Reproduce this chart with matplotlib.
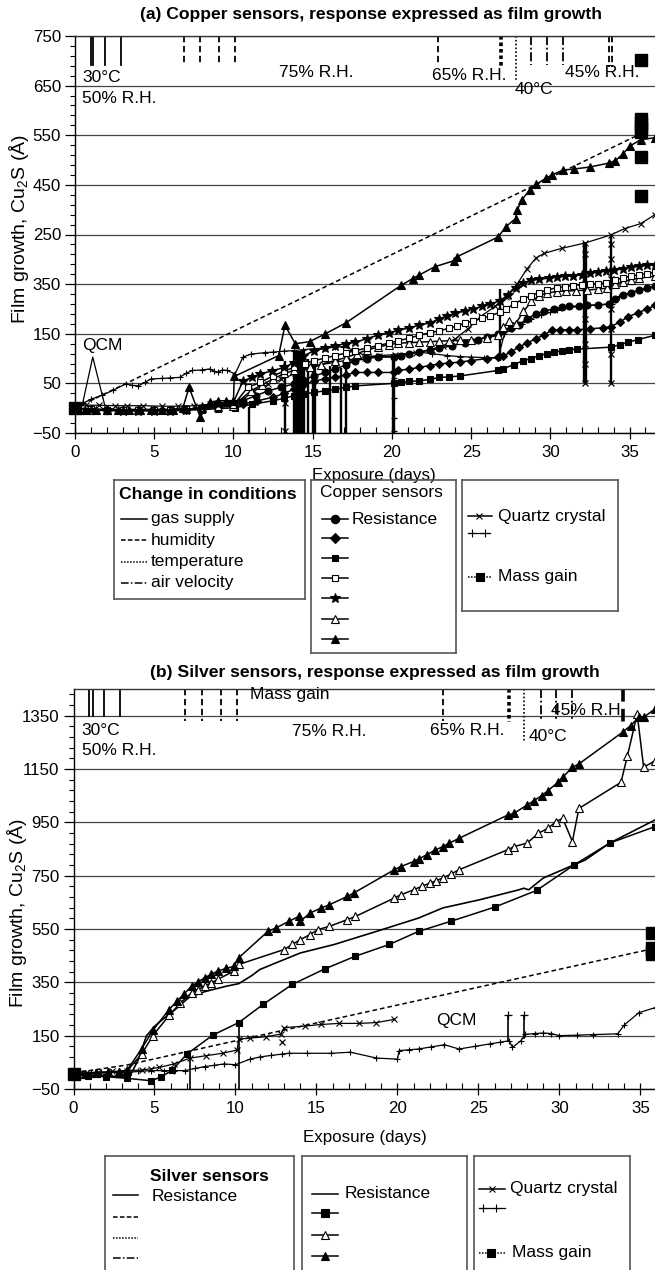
import matplotlib
matplotlib.use('Agg')
import matplotlib.pyplot as plt
from matplotlib.ticker import FixedLocator, MultipleLocator

plt.rcParams['font.family'] = ['Liberation Sans', 'DejaVu Sans']
plt.rcParams['mathtext.fontset'] = 'custom'
plt.rcParams['mathtext.rm'] = 'Liberation Sans'
plt.rcParams['mathtext.it'] = 'Liberation Sans:italic'
plt.rcParams['mathtext.bf'] = 'Liberation Sans:bold'
plt.rcParams['font.size'] = 12

# ---------------- DATA : panel (a) copper ----------------
a_ytick_pos = [-50, 50, 150, 250, 350, 450, 550, 650, 750]
a_ytick_lab = ['\u221250', '50', '150', '350', '250', '450', '550', '650', '750']

a_res_d = [0,1,2,3,4,5,6,7,8,9,10,10.6,11.4,12.2,13.0,13.8,14.4,15.1,15.8,16.4,17.1,17.7,18.4,19.1,20.1,20.6,21.1,21.7,22.4,23.0,23.8,24.6,25.4,26.0,26.7,27.0,27.5,28.0,28.5,29.1,29.6,30.2,30.7,31.2,31.8,32.3,33.0,33.7,34.1,34.6,35.1,35.6,36.1,36.6]
a_res_v = [0,-2,-3,-3,-3,-3,-3,-2,0,2,5,15,25,35,42,49,57,65,72,79,87,96,100,103,103,106,110,113,117,121,126,132,138,143,150,157,162,167,180,190,196,200,203,205,206,207,208,210,220,228,233,238,243,246]

a_dia_d = [0,1,2,3,4,5,6,7,8,9,10,10.6,11.5,12.5,13.2,13.8,14.4,15.1,15.8,16.4,17.1,17.7,18.4,19.1,20.1,20.4,21.1,21.7,22.4,23.0,23.6,24.3,25.0,26.0,26.7,27.0,27.5,28.0,28.5,29.1,29.6,30.1,30.6,31.2,31.7,32.5,33.3,33.8,34.4,34.9,35.5,36.1,36.6]
a_dia_v = [0,-3,-4,-4,-4,-4,-4,-3,-1,2,4,8,15,22,30,38,47,55,59,62,67,72,72,72,72,76,79,82,86,89,91,93,96,100,103,105,113,123,131,140,148,157,158,158,158,160,162,164,174,184,192,200,207]

a_sqf_d = [0,1,2,3,4,5,6,7,8,9,10.1,11.2,12.5,13.2,13.8,14.4,15.1,15.8,16.4,17.1,17.7,20.1,20.6,21.1,21.7,22.4,23.0,23.6,24.3,26.7,27.0,27.7,28.3,28.8,29.3,29.8,30.2,30.7,31.2,31.7,33.8,34.4,34.9,35.5,36.6]
a_sqf_v = [0,-4,-5,-5,-5,-5,-5,-4,-3,-1,1,8,15,20,25,28,32,35,38,42,45,50,52,54,55,58,62,63,65,76,79,88,96,100,106,110,113,115,118,119,123,128,133,138,147]

a_sqo_d = [0,1,2,3,4,5,6,7,8,9,10,10.9,11.7,12.5,13.2,13.8,14.5,15.1,15.8,16.4,17.1,17.7,18.4,19.1,19.8,20.4,21.1,21.7,22.4,23.0,23.6,24.1,24.6,25.1,25.7,26.2,26.8,27.2,27.7,28.3,28.8,29.3,29.8,30.4,30.9,31.4,32.0,32.5,33.0,33.5,34.1,34.6,35.1,35.6,36.1,36.6]
a_sqo_v = [0,-2,-3,-3,-3,-3,-3,-2,0,3,6,42,52,65,75,82,90,96,101,106,111,116,121,126,131,136,141,147,152,156,161,166,171,176,181,186,193,200,210,220,227,233,238,243,245,247,249,250,251,253,258,263,266,269,271,274]

a_star_d = [0,1,2,3,4,5,6,7,8,9,10,10.6,11.2,11.7,12.4,13.2,13.8,14.4,15.1,15.8,16.4,17.1,17.7,18.4,19.1,19.8,20.4,21.1,21.7,22.4,23.0,23.5,24.0,24.6,25.1,25.7,26.2,26.8,27.3,27.8,28.3,28.8,29.3,29.9,30.4,30.9,31.4,32.0,32.5,33.0,33.5,34.0,34.6,35.1,35.6,36.1,36.6]
a_star_v = [0,-3,-4,-5,-5,-5,-5,-4,2,8,12,55,62,69,75,82,92,105,116,121,126,130,133,140,147,152,157,162,167,172,180,186,191,196,200,205,210,216,228,243,253,258,260,262,264,266,267,269,272,274,277,279,281,284,286,288,289]

a_tro_d = [0,1,2,3,4,5,6,7,8,9,10,11.1,11.8,12.5,13.2,13.8,14.8,15.5,16.4,17.1,17.8,18.4,19.1,19.8,20.4,21.1,21.7,22.4,23.0,23.6,24.3,25.0,26.0,26.7,27.0,27.4,27.8,28.3,28.8,29.3,29.8,30.4,31.0,31.6,32.3,33.0,33.6,34.1,34.6,35.1,35.6,36.6]
a_tro_v = [0,-3,-3,-3,-3,-3,-3,-2,0,3,5,35,47,59,70,76,82,88,96,102,110,117,123,128,131,132,133,134,135,136,137,138,142,147,163,175,170,195,215,227,232,235,236,237,238,240,242,250,255,259,262,266]

a_trf_d = [0,0.6,1.3,2,2.7,3.4,4.1,4.8,5.5,6.2,6.8,7.2,7.9,8.5,9,9.5,10.0,10.05,12.85,13.25,13.9,14.8,15.8,17.1,20.6,21.3,21.7,22.7,23.9,24.1,26.7,27.2,27.8,27.9,28.2,28.7,29.1,29.7,30.1,30.8,31.5,32.5,33.7,34.1,34.6,35.0,35.7,36.6]
a_trf_v = [0,-3,-3,-3,-3,-3,-3,-3,-3,-3,0,42,-18,12,15,15,15,64,106,167,130,134,150,172,248,261,268,285,297,305,345,366,382,399,420,440,451,463,470,480,482,486,494,499,513,528,541,545]

a_qcx_d = [0,0.7,1.5,2.5,3.3,4.3,5.5,6.5,7.5,8.5,9.5,10.5,11.3,12.2,13.0,13.9,14.8,15.6,16.5,17.4,18.3,19.2,20.2,21.5,22.5,23.2,24.0,24.8,25.6,26.5,27.2,27.9,28.5,29.1,29.6,30.7,32.2,33.8,34.7,35.7,36.6]
a_qcx_v = [5,6,6,5,5,5,4,4,5,8,10,15,35,48,58,70,80,88,93,98,102,106,108,112,118,125,140,160,185,205,225,250,280,303,312,322,333,349,362,372,390]

a_qcp_d = [0,0.5,1,1.7,2.4,3.2,3.6,4.0,4.4,4.8,5.5,6.0,6.6,7.0,7.4,8.0,8.5,8.8,9.0,9.3,9.6,10.1,10.6,11.1,12.0,12.5,13.2,13.8,14.4,15.1,15.8,16.4,16.9,17.5,18.3,19.2,20.1,21.0,21.7,22.5,23.5,24.3,25.0,25.8,26.7,27.1,27.6,28.2,28.8,29.4,30.0,30.4,31.9,33.9,34.3,35.0,36.6]
a_qcp_v = [0,10,18,26,36,49,46,45,52,59,60,61,62,70,76,77,79,74,72,77,76,69,103,109,112,113,115,116,118,120,121,123,124,118,106,104,105,110,113,110,106,104,103,102,101,150,160,170,180,188,193,198,206,210,225,232,245]

# QCM glitches (vertical excursions)
a_spk_d = [11.0,13.25,13.85,13.97,14.09,14.21,14.33,14.45,14.7,15.05,15.15,16.1,16.8,17.1,20.05,20.12,26.85,32.15,32.25,33.85]
a_spk_top = [2,96,116,116,116,116,116,116,100,100,100,85,80,80,102,102,241,335,335,349]
a_spk_bot = [-50,-50,-50,-50,-50,-50,-50,-50,-50,-50,-50,-50,-50,-50,-50,-50,96,50,50,50]
a_spkx_d = [13.25,13.25,32.2,32.2,32.2,32.2,32.2,32.2,33.85,33.85,33.85,33.85,33.85,33.85,33.85]
a_spkx_v = [10,-45,310,250,180,130,90,50,330,300,260,200,160,110,50]
a_spkp_d = [20.1,20.1,20.1,20.1,26.85,26.85,26.85]
a_spkp_v = [60,20,-20,-45,200,150,110]

a_mass_line_d = [0, 35.7]
a_mass_line_v = [0, 553]
a_mass_d = [0, 35.7, 35.7, 35.7, 35.7, 35.7, 35.7, 35.7]
a_mass_v = [0, 702, 583, 574, 565, 556, 507, 428]

a_qcm_lbl_d = [0.45, 1.12, 1.9]
a_qcm_lbl_v = [5, 103, 3]

a_cond_d = [0.98,1.16,1.9,2.9,6.9,7.9,9.1,10.1,22.9,26.9,27.8,28.8,29.8,30.8,33.7,33.9]
a_cond_kind = ['gas']*4 + ['hum']*5 + ['tempb','temp'] + ['air']*3 + ['hum','hum']
a_cond_end = [692]*9 + [690,661] + [692]*3 + [688,688]

a_notes = [('30\u00b0C',0.45,667),('50% R.H.',0.45,624),('75% R.H.',12.85,677),
           ('65% R.H.',22.5,671),('40\u00b0C',27.75,643),('45% R.H.',30.9,677),('QCM',0.47,127)]

# ---------------- DATA : panel (b) silver ----------------
b_ytick_pos = [-50, 150, 350, 550, 750, 950, 1150, 1350]
b_ytick_lab = ['\u221250', '150', '350', '550', '750', '950', '1150', '1350']

b_res_d = [0,1,2,3,3.5,4.0,4.5,5.0,5.5,6.3,7.1,8.1,9.4,10.2,11.0,11.5,12.5,14.0,16.1,18.7,21.3,22.8,25.1,27.5,27.8,28.1,29.0,31.6,33.1,35.9]
b_res_v = [5,2,0,-5,0,60,149,185,211,249,292,315,335,345,375,398,423,460,492,541,591,629,660,697,703,697,741,809,872,959]

b_sq_d = [0,0.9,2.0,3.3,4.8,5.4,6.1,7.0,8.6,10.2,11.7,13.5,15.5,17.4,19.5,21.3,23.3,26.0,28.6,30.9,33.1,35.9]
b_sq_v = [5,0,-4,-10,-19,-5,21,81,152,199,267,342,400,448,492,541,579,632,695,790,872,934]

b_tro_d = [0,0.7,1.4,2.1,2.8,3.3,4.2,4.9,5.9,6.6,7.3,7.7,8.1,8.5,8.9,9.9,10.2,13.0,13.5,14.0,14.6,15.1,15.8,16.9,17.4,19.8,20.2,21.0,21.5,22.0,22.4,22.8,23.3,23.8,26.8,27.2,28.0,28.7,29.3,29.8,30.2,30.8,31.2,33.8,34.2,34.8,35.2,35.9]
b_tro_v = [5,8,10,12,15,18,80,150,226,273,311,323,336,348,361,392,417,473,492,510,529,548,560,585,597,666,678,697,710,722,731,741,756,772,847,859,872,909,928,953,965,878,1002,1100,1200,1356,1156,1181]

b_trf_d = [0,0.7,1.4,2.1,2.8,3.3,4.2,4.9,5.9,6.4,6.8,7.3,7.7,8.1,8.5,8.9,9.4,9.9,10.2,12.0,12.5,13.3,13.9,14.0,14.6,15.3,15.8,16.9,17.3,19.8,20.2,21.0,21.3,21.8,22.3,22.8,23.2,23.8,26.8,27.2,28.0,28.4,28.9,29.3,29.9,30.2,30.8,31.2,33.9,34.4,34.9,35.2,35.9]
b_trf_v = [5,8,10,12,15,20,100,170,248,280,305,336,352,367,380,392,402,410,442,541,554,579,597,579,610,629,641,672,685,772,784,803,812,828,845,859,872,890,977,984,1015,1030,1050,1069,1100,1119,1156,1169,1288,1313,1344,1344,1375]

b_qcx_d = [0,0.8,1.5,2.4,3.3,4.2,4.8,5.3,6.2,7.2,8.2,9.2,10.1,10.2,10.9,11.9,12.8,13.0,14.3,15.3,16.4,17.6,18.7,19.8]
b_qcx_v = [6,10,13,16,19,21,26,31,44,66,75,84,96,137,141,146,156,180,186,192,196,196,199,211]

b_qcp_d = [0,0.5,1.1,1.7,2.3,3.3,4.0,4.8,5.6,6.2,6.9,7.5,8.1,8.7,9.3,10.0,10.9,11.5,12.2,12.9,13.3,14.4,15.9,17.1,18.7,20.0,20.1,20.7,21.3,22.1,22.9,23.8,24.8,25.7,26.3,26.9,27.1,27.6,27.9,28.5,29.0,29.5,30.0,31.1,32.1,33.6,34.0,34.9,35.9]
b_qcp_v = [6,9,12,12,12,12,16,19,19,19,19,27,34,39,44,41,62,70,76,81,84,84,84,88,66,62,94,97,100,108,116,100,110,119,125,131,106,130,155,158,160,158,150,152,154,157,190,236,255]

b_spk_d = [7.2, 10.2, 26.8, 27.8]
b_spk_top = [66, 198, 226, 226]
b_spk_bot = [-62, -56, 131, 137]
b_spkx_d = [7.2, 12.9]
b_spkx_v = [-60, 125]
b_spkp_d = [26.8, 27.8]
b_spkp_v = [226, 226]

b_mass_line_d = [0, 3.3, 10.1, 35.9]
b_mass_line_v = [10, 40, 132, 478]
b_mass_d = [0, 35.7, 35.7, 35.7, 35.7]
b_mass_v = [5, 535, 480, 467, 455]

b_cond_d = [0.95,1.19,1.9,2.9,6.86,7.92,9.13,10.09,22.8,26.9,27.8,28.87,29.8,30.8,33.9]
b_cond_kind = ['gas']*4 + ['hum']*5 + ['tempb','temp'] + ['air']*3 + ['humb']
b_cond_end = [1350]*4 + [1331]*5 + [1325,1256] + [1331]*3 + [1325]

b_notes = [('Mass gain',10.9,1431),('30\u00b0C',0.5,1294),('50% R.H.',0.5,1219),('75% R.H.',13.5,1290),
           ('65% R.H.',22.0,1294),('40\u00b0C',28.1,1272),('45% R.H',29.5,1369),('QCM',22.4,205)]

# ---------------- LAYOUT ----------------
W, H = 655, 1270
fig = plt.figure(figsize=(W/100, H/100), dpi=100)

def rect(l, t, r, b):
    return [l/W, 1-b/H, (r-l)/W, (b-t)/H]

ax_a = fig.add_axes(rect(75, 36, 655, 433))
ax_b = fig.add_axes(rect(73.5, 689, 655, 1089))

K = 'black'
FS = 12.5

def series(ax, d, v, marker, ms, mfc=K, ls='-', lw=1.1):
    ax.plot(d, v, ls=ls, marker=marker, ms=ms, mfc=mfc, color=K, lw=lw, mec=K, mew=0.8)

cond_style = {'gas': ('-', 1.3), 'hum': ((0, (3.5, 2)), 1.3), 'humb': ((0, (3.5, 2)), 2.6),
              'temp': ((0, (1, 1.3)), 1.2), 'tempb': ((0, (1, 0.8)), 2.6), 'air': ((0, (5, 1.5, 1, 1.5)), 1.3)}

def style_axes(ax, xmax, ylo, yhi, ypos, ylab, yminor):
    ax.set_xlim(0, xmax)
    ax.set_ylim(ylo, yhi)
    ax.set_xticks([0, 5, 10, 15, 20, 25, 30, 35])
    ax.xaxis.set_minor_locator(MultipleLocator(1))
    ax.set_yticks(ypos)
    ax.set_yticklabels(ylab)
    ax.yaxis.set_minor_locator(FixedLocator(yminor))
    ax.tick_params(axis='y', which='major', direction='out', length=7, width=0.9, pad=3, labelsize=12.2)
    ax.tick_params(axis='y', which='minor', direction='out', length=3.5, width=0.8)
    ax.tick_params(axis='x', which='major', direction='inout', length=9, width=0.9, pad=4, labelsize=12.2)
    ax.tick_params(axis='x', which='minor', direction='in', length=4, width=0.8)
    ax.spines['right'].set_visible(False)
    for s in ('left', 'bottom', 'top'):
        ax.spines[s].set_linewidth(1.0)
    ax.spines['top'].set_color('#333333')
    ax.grid(axis='y', which='major', color='#444444', lw=0.9)
    ax.set_axisbelow(True)
    ax.set_ylabel('Film growth, Cu$_2$S (\u00c5)', fontsize=14)
    ax.set_xlabel('Exposure (days)', fontsize=12.2)

# ---------------- PANEL (a) ----------------
ax = ax_a
style_axes(ax, 36.6, -50, 750, a_ytick_pos, a_ytick_lab, list(range(-50, 751, 20)))
ax.yaxis.set_label_coords(-0.076, 0.515)
ax.xaxis.set_label_coords(0.516, -0.087)

for d, k, e in zip(a_cond_d, a_cond_kind, a_cond_end):
    ls, lw = cond_style[k]
    ax.plot([d, d], [750, e], color=K, ls=ls, lw=lw)

ax.plot(a_mass_line_d, a_mass_line_v, color=K, ls=(0, (3, 2)), lw=1.1)
ax.vlines(a_spk_d, a_spk_bot, a_spk_top, color=K, lw=1.7)
ax.plot(a_spkx_d, a_spkx_v, ls='none', marker='x', ms=5, color=K, mew=0.9)
ax.plot(a_spkp_d, a_spkp_v, ls='none', marker='+', ms=5, color=K, mew=0.9)

series(ax, a_qcx_d, a_qcx_v, 'x', 4.5, lw=0.9)
series(ax, a_qcp_d, a_qcp_v, '+', 5, lw=0.9)
series(ax, a_sqf_d, a_sqf_v, 's', 4.5)
series(ax, a_dia_d, a_dia_v, 'D', 4.5)
series(ax, a_res_d, a_res_v, 'o', 5)
series(ax, a_tro_d, a_tro_v, '^', 5.5, mfc='white')
series(ax, a_sqo_d, a_sqo_v, 's', 5, mfc='white')
series(ax, a_star_d, a_star_v, '*', 7)
series(ax, a_trf_d, a_trf_v, '^', 5.5)
ax.plot(a_mass_d, a_mass_v, ls='none', marker='s', ms=8, color=K, clip_on=False)
ax.plot(a_qcm_lbl_d, a_qcm_lbl_v, color=K, lw=0.9)

for t, d, v in a_notes:
    ax.text(d, v, t, ha='left', va='center', fontsize=FS)

# ---------------- PANEL (b) ----------------
ax = ax_b
style_axes(ax, 35.9, -50, 1450, b_ytick_pos, b_ytick_lab, list(range(-50, 1451, 40)))
ax.yaxis.set_label_coords(-0.0765, 0.44)
ax.xaxis.set_label_coords(0.5006, -0.103)

for d, k, e in zip(b_cond_d, b_cond_kind, b_cond_end):
    ls, lw = cond_style[k]
    ax.plot([d, d], [1450, e], color=K, ls=ls, lw=lw)

ax.plot(b_mass_line_d, b_mass_line_v, color=K, ls=(0, (3, 2)), lw=1.1)
ax.vlines(b_spk_d, b_spk_bot, b_spk_top, color=K, lw=1.2)
ax.plot(b_spkx_d, b_spkx_v, ls='none', marker='x', ms=5, color=K, mew=0.9)
ax.plot(b_spkp_d, b_spkp_v, ls='none', marker='+', ms=6, color=K, mew=0.9)

series(ax, b_qcx_d, b_qcx_v, 'x', 4.5, lw=0.9)
series(ax, b_qcp_d, b_qcp_v, '+', 5, lw=0.9)
ax.plot(b_res_d, b_res_v, color=K, lw=1.2)
series(ax, b_sq_d, b_sq_v, 's', 4.5)
series(ax, b_tro_d, b_tro_v, '^', 5.5, mfc='white')
series(ax, b_trf_d, b_trf_v, '^', 5.5)
ax.plot(b_mass_d, b_mass_v, ls='none', marker='s', ms=8, color=K, clip_on=False)

for t, d, v in b_notes:
    ax.text(d, v, t, ha='left', va='center', fontsize=FS)

# ---------------- TITLES ----------------
fig.text(371/W, 1-14/H, '(a) Copper sensors, response expressed as film growth',
         ha='center', va='center', fontsize=12.6, fontweight='bold')
fig.text(375/W, 1-672/H, '(b) Silver sensors, response expressed as film growth',
         ha='center', va='center', fontsize=12.6, fontweight='bold')

# ---------------- LEGEND BOXES ----------------
def box(l, t, r, b):
    bx = fig.add_axes(rect(l, t, r, b))
    bx.set_xlim(l, r)
    bx.set_ylim(b, t)
    bx.set_xticks([]); bx.set_yticks([])
    bx.patch.set_alpha(0)
    for s in bx.spines.values():
        s.set_color('#555555'); s.set_linewidth(1.2)
    return bx

def key(bx, x0, x1, y, ls='-', marker=None, mfc=K, ms=5, mx=None, lw=1.1):
    bx.plot([x0, x1], [y, y], color=K, ls=ls, lw=lw)
    if marker:
        mxs = mx if mx is not None else [(x0 + x1) / 2]
        bx.plot(mxs, [y]*len(mxs), ls='none', marker=marker, ms=ms, mfc=mfc, mec=K, mew=0.8)

# (a) box 1
bx = box(113.7, 480, 304.5, 599)
bx.text(118.8, 495, 'Change in conditions', fontweight='bold', va='center', fontsize=12.6)
for yy, ls, lab in [(519, '-', 'gas supply'), (540, (0, (3, 1.5)), 'humidity'),
                    (561.7, (0, (1, 1)), 'temperature'), (583, (0, (5, 1.5, 1, 1.5)), 'air velocity')]:
    key(bx, 120.7, 146.5, yy, ls=ls)
    bx.text(151, yy, lab, va='center', fontsize=FS)

# (a) box 2
bx = box(311, 480, 455.6, 653)
bx.text(320, 492, 'Copper sensors', va='center', fontsize=FS)
for yy, m, fc, ms in [(519, 'o', K, 6), (538.3, 'D', K, 5), (558.3, 's', K, 5), (577.7, 's', 'white', 5),
                      (598.3, '*', K, 7), (619, '^', 'white', 5.5), (639.3, '^', K, 5.5)]:
    key(bx, 322, 348, yy, marker=m, mfc=fc, ms=ms)
bx.text(352, 519, 'Resistance', va='center', fontsize=FS)

# (a) box 3
bx = box(462, 480, 617.8, 611)
key(bx, 468, 492, 516, marker='x', ms=5, mx=[479.5])
bx.text(498, 516, 'Quartz crystal', va='center', fontsize=FS)
key(bx, 468, 490, 533, marker='+', ms=6, mx=[472, 485], lw=0.9)
key(bx, 468, 492, 577, ls=(0, (1, 1)), marker='s', ms=5.5, mx=[480])
bx.text(498, 577, 'Mass gain', va='center', fontsize=FS)

# (b) box 1
bx = box(104.8, 1156, 294.5, 1285)
bx.text(209, 1176.7, 'Silver sensors', fontweight='bold', ha='center', va='center', fontsize=FS)
for yy, ls in [(1195, '-'), (1217, (0, (3, 1.5))), (1238, (0, (1, 1))), (1258, (0, (5, 1.5, 1, 1.5)))]:
    key(bx, 113, 137.8, yy, ls=ls)
bx.text(152, 1196.7, 'Resistance', va='center', fontsize=FS)

# (b) box 2
bx = box(301.7, 1156, 467, 1285)
key(bx, 312.3, 338, 1194)
bx.text(344.6, 1194, 'Resistance', va='center', fontsize=FS)
for yy, m, fc in [(1212.7, 's', K), (1235, '^', 'white'), (1256, '^', K)]:
    key(bx, 312.3, 338, yy, marker=m, mfc=fc, ms=5.5)

# (b) box 3
bx = box(473.6, 1156, 630, 1285)
key(bx, 479.3, 504.7, 1189, marker='x', ms=5, mx=[491.8])
bx.text(509.7, 1189, 'Quartz crystal', va='center', fontsize=FS)
key(bx, 479.3, 504.7, 1208, marker='+', ms=6, mx=[483, 496], lw=0.9)
key(bx, 479.3, 504.7, 1253, ls=(0, (1, 1)), marker='s', ms=5.5, mx=[490.7])
bx.text(512.3, 1253, 'Mass gain', va='center', fontsize=FS)

fig.savefig('out.png', dpi=100)
